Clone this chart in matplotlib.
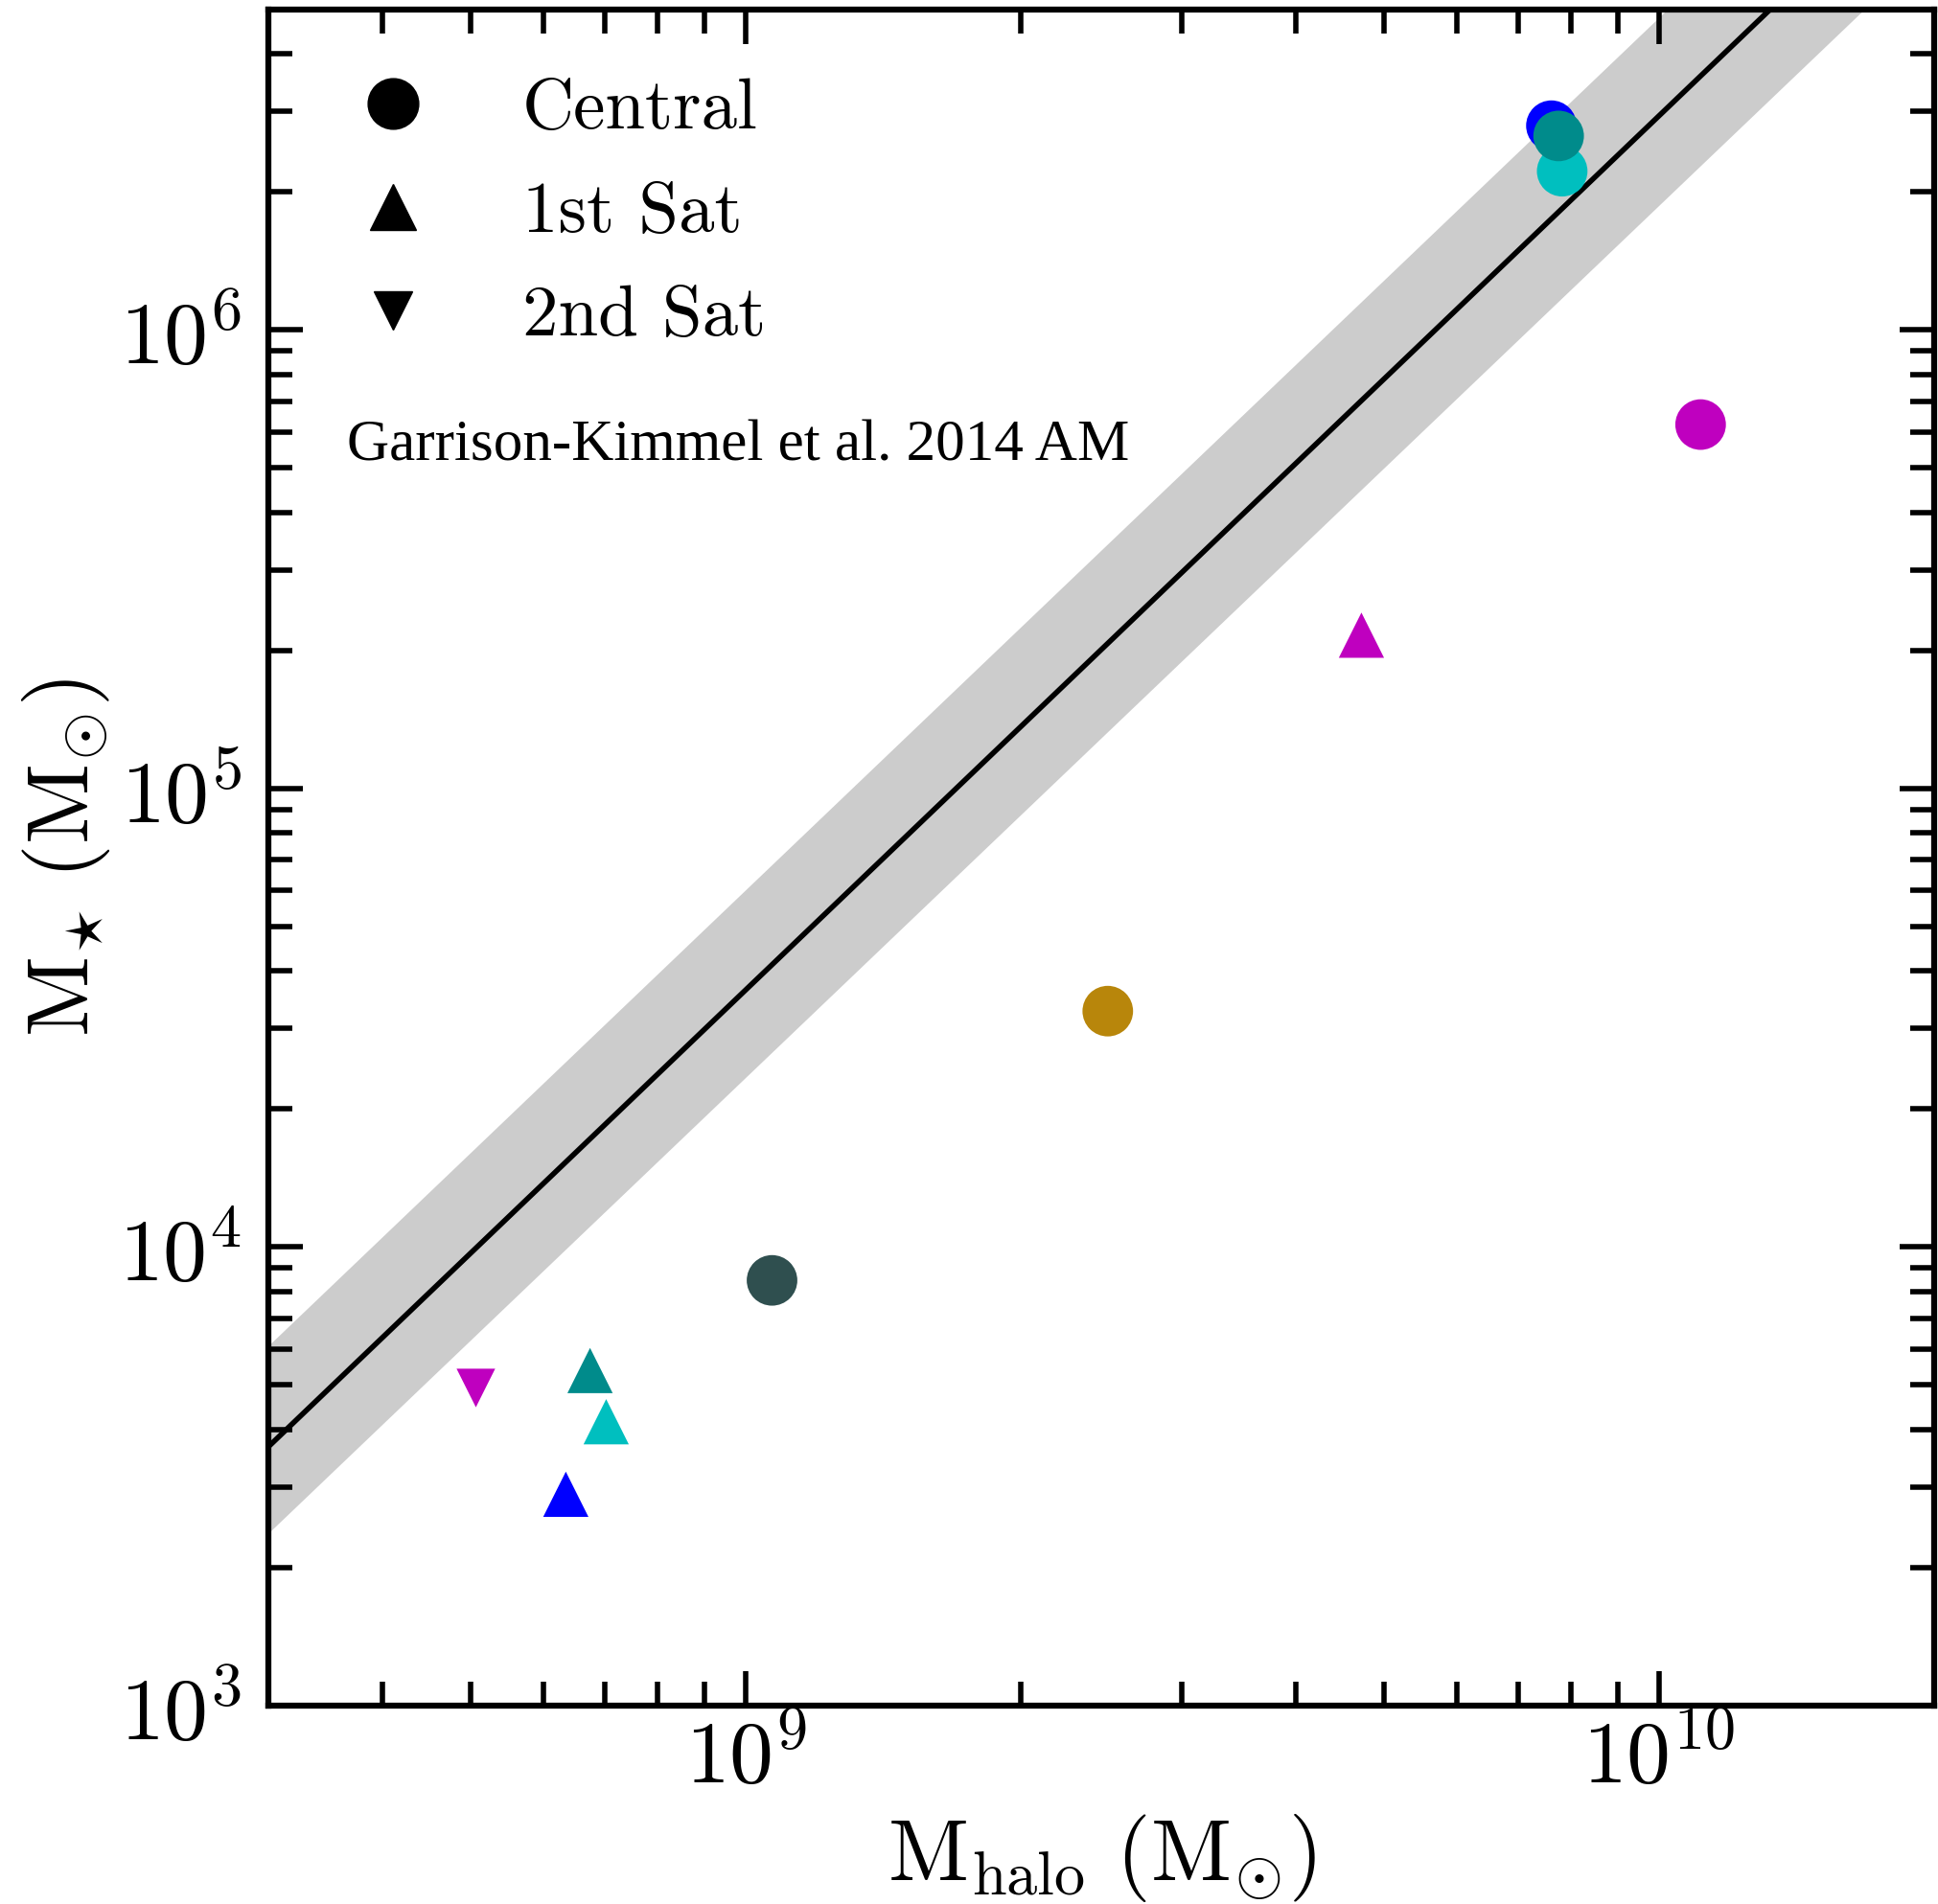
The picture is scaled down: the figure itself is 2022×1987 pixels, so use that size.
import numpy as np
import matplotlib
matplotlib.use('Agg')
import matplotlib.pyplot as plt
from matplotlib.lines import Line2D
from matplotlib.ticker import LogLocator, FuncFormatter, NullFormatter

plt.rcParams['mathtext.fontset'] = 'cm'

# central galaxies (halo mass, stellar mass)
central_mhalo = [7.62e9, 7.83e9, 7.76e9, 1.11e10, 2.49e9, 1.068e9]
central_mstar = [2.79e6, 2.22e6, 2.65e6, 6.22e5, 3.27e4, 8.46e3]
central_color = ['b', 'c', 'darkcyan', 'm', 'darkgoldenrod', 'darkslategray']

# first satellites
sat1_mhalo = [4.72e9, 6.75e8, 7.03e8, 6.35e8]
sat1_mstar = [2.16e5, 5.38e3, 4.16e3, 2.89e3]
sat1_color = ['m', 'darkcyan', 'c', 'b']

# second satellites
sat2_mhalo = [5.05e8]
sat2_mstar = [4.94e3]
sat2_color = ['m']

# Garrison-Kimmel et al. 2014 abundance matching, line and band end points
am_mhalo = [3e8, 2e10]
am_mstar = [3.67e3, 1.1e7]
am_upper = [6.1e3, 1.8e7]
am_lower = [2.38e3, 7.0e6]

legend_labels = ['Central', '1st Sat', '2nd Sat']

fig = plt.figure(figsize=(20.22, 19.87), dpi=100)
ax = fig.add_axes([0.1385, 0.1042, 0.8595, 0.8908])

ax.fill_between(am_mhalo, am_lower, am_upper, color='0.8', lw=0, zorder=1)
ax.plot(am_mhalo, am_mstar, 'k-', lw=4, zorder=2)

ax.scatter(central_mhalo, central_mstar, c=central_color, marker='o', s=38**2, linewidths=0, zorder=3)
ax.scatter(sat1_mhalo, sat1_mstar, c=sat1_color, marker='^', s=34**2, linewidths=0, zorder=3)
ax.scatter(sat2_mhalo, sat2_mstar, c=sat2_color, marker='v', s=29**2, linewidths=0, zorder=3)

ax.set_xscale('log')
ax.set_yscale('log')
ax.set_xlim(3e8, 2e10)
ax.set_ylim(1e3, 5e6)

fmt = FuncFormatter(lambda v, p: r'$10^{%d}$' % round(np.log10(v)))
for axis in [ax.xaxis, ax.yaxis]:
    axis.set_major_locator(LogLocator(base=10))
    axis.set_minor_locator(LogLocator(base=10, subs=np.arange(2, 10)))
    axis.set_major_formatter(fmt)
    axis.set_minor_formatter(NullFormatter())

ax.tick_params(which='both', direction='in', top=True, right=True, width=4, labelsize=66)
ax.tick_params(which='major', length=26)
ax.tick_params(which='minor', length=18)
ax.tick_params(axis='x', pad=7)
ax.tick_params(axis='y', pad=20)
for sp in ax.spines.values():
    sp.set_linewidth(4.5)

ax.set_xlabel(r'$\mathrm{M_{halo}\ (M_{\odot})}$', fontsize=66, labelpad=8)
ax.set_ylabel(r'$\mathrm{M_{\star}\ (M_{\odot})}$', fontsize=66, labelpad=5)

handles = [Line2D([], [], marker='o', color='k', ls='none', markersize=38),
           Line2D([], [], marker='^', color='k', ls='none', markersize=34),
           Line2D([], [], marker='v', color='k', ls='none', markersize=29)]
ax.legend(handles, legend_labels, loc='upper left', bbox_to_anchor=(0, 0.9904), frameon=False,
          prop={'family': 'cmr10', 'size': 54}, handlelength=2, handletextpad=0.8,
          labelspacing=0.54, borderpad=0.4, borderaxespad=0.33)

ax.text(0.0474, 0.7427, 'Garrison-Kimmel et al. 2014 AM', transform=ax.transAxes,
        family='Liberation Serif', fontsize=44, ha='left', va='center')

fig.savefig('out.png', dpi=100)
